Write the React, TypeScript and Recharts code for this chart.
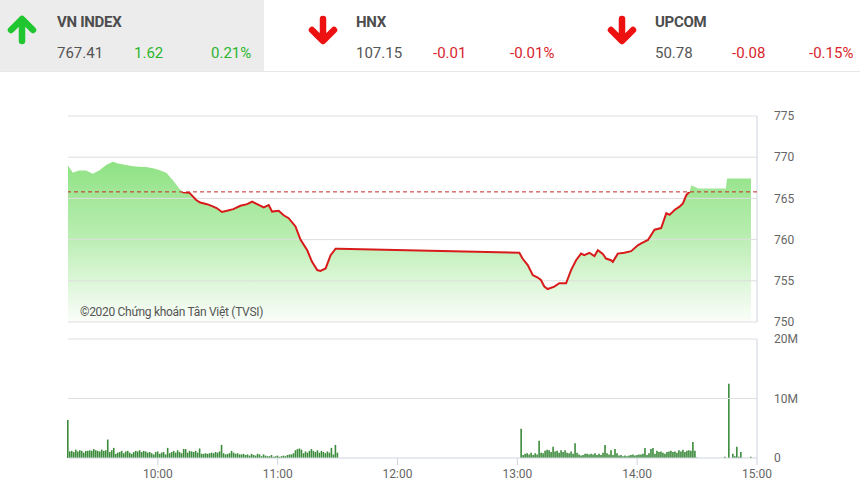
import React from 'react';
import { ComposedChart, Area, Line, Bar, XAxis, YAxis, ReferenceLine } from 'recharts';

// ---------- data ----------
const indexNames = ['VN INDEX', 'HNX', 'UPCOM'];
const indexValues = ['767.41', '107.15', '50.78'];
const indexChanges = ['1.62', '-0.01', '-0.08'];
const indexPercents = ['0.21%', '-0.01%', '-0.15%'];
const indexUp = [true, false, false];

const refPrice = 765.79;

const priceTimes = [
  555, 557.4, 560.5, 564, 567.4, 570.6, 574.1, 577.4, 580.6, 584.1, 587.5, 590.6, 594.1, 597.5,
  600.7, 604.2, 607.5, 610.7, 612.6, 615.7, 619.2, 621.2, 624.6, 627.8, 629.6, 632.1, 634.6,
  637.8, 641.3, 644.7, 647.2, 649.7, 653, 655.5, 657.2, 660.5, 663, 665.5, 668.9, 671.4, 674.8,
  677.2, 679.8, 681.4, 684, 686.5, 689, 690.5,
  781, 782.6, 785.2, 787.7, 790.2, 791.8, 793.5, 795.2, 798.5, 801, 804.4, 806.9, 809.4, 811.9,
  813.5, 816.1, 818.6, 820.3, 822.8, 824.4, 826.9, 827.8, 830.3, 833.6, 837, 840.3, 842, 845.4,
  848.7, 852, 854.6, 856.2, 858.7, 861.2, 862.9, 864.6, 866.2, 867.1, 868.8, 870.5, 884.4, 885,
  897,
];
const priceValues = [
  769.0, 768.1, 768.4, 768.4, 768.0, 768.4, 769.05, 769.45, 769.2, 769.05, 768.9, 768.85, 768.8, 768.65,
  768.45, 768.1, 767.2, 766.2, 765.75, 765.7, 764.8, 764.5, 764.3, 764.0, 763.8, 763.35, 763.5,
  763.7, 764.1, 764.3, 764.6, 764.3, 763.9, 764.2, 763.4, 763.5, 762.95, 762.6, 761.6, 760.0, 758.7,
  757.3, 756.3, 756.2, 756.5, 758.1, 758.9, 758.9,
  758.4, 757.7, 756.9, 755.7, 755.4, 755.1, 754.3, 754.0, 754.3, 754.7, 754.7, 756.3, 757.5, 758.3,
  758.1, 758.4, 758.0, 758.7, 758.25, 757.7, 757.5, 757.3, 758.3, 758.4, 758.6, 759.3, 759.55, 759.95,
  761.2, 761.4, 763.2, 763.0, 763.6, 764.0, 764.4, 765.4, 765.8, 766.6, 766.4, 766.2, 766.2, 767.4,
  767.4,
];

// volume in millions, one bar per minute
const volMorningStart = 555;
const volMorning = [
  6.4, 1.1, 1.2, 1.0, 1.4, 1.1, 1.3, 1.2, 0.9, 1.2, 1.2, 1.3, 1.2, 1.5, 1.3, 1.2, 1.1, 1.4, 1.2, 1.3,
  3.1, 1.0, 1.3, 1.7, 0.7, 0.9, 1.0, 1.2, 0.8, 1.1, 1.2, 0.9, 0.7, 1.0, 1.2, 1.1, 1.3, 1.0, 1.2, 1.1,
  0.9, 1.0, 0.8, 0.6, 1.0, 1.1, 0.7, 0.9, 1.0, 0.6, 1.7, 0.8, 1.0, 1.2, 0.9, 1.3, 1.0, 0.8, 1.5, 1.5,
  0.9, 1.2, 1.1, 1.0, 1.2, 0.9, 1.6, 0.7, 0.7, 0.8, 0.7, 0.8, 0.9, 0.8, 1.0, 0.9, 1.1, 2.2, 0.8, 0.6,
  0.7, 0.8, 1.2, 0.9, 0.7, 0.8, 0.6, 0.6, 0.7, 0.5, 0.6, 0.4, 0.7, 0.5, 0.4, 0.7, 0.6, 0.3, 0.6, 0.4,
  0.3, 0.3, 0.5, 0.2, 0.3, 0.4, 0.2, 0.3, 0.4, 0.3, 0.5, 0.6, 0.6, 0.8, 1.3, 1.5, 1.6, 1.4, 0.8, 1.1,
  0.9, 1.2, 1.5, 1.2, 1.0, 1.3, 0.9, 1.2, 1.0, 0.8, 1.1, 0.9, 1.7, 0.6, 2.2, 0.9,
];
const volAfternoonStart = 782;
const volAfternoon = [
  4.9, 0.5, 0.7, 0.8, 0.6, 0.9, 0.5, 0.8, 0.6, 2.9, 0.9, 0.8, 1.2, 1.4, 1.3, 1.0, 1.9, 1.1, 1.2, 0.9,
  1.3, 1.0, 1.3, 0.9, 0.8, 1.1, 0.7, 2.5, 0.9, 0.6, 0.4, 0.5, 0.7, 0.7, 0.6, 0.7, 0.6, 0.8, 0.5, 0.7,
  0.5, 0.9, 2.2, 0.8, 0.6, 1.3, 0.5, 1.5, 0.8, 0.4, 0.5, 0.3, 0.4, 0.3, 0.4, 0.5, 0.6, 0.4, 0.5, 0.6,
  0.6, 0.7, 1.7, 0.5, 0.8, 1.5, 1.7, 0.7, 1.2, 1.0, 1.1, 0.9, 0.7, 1.0, 1.1, 1.2, 1.0, 1.1, 0.9, 1.3,
  1.1, 1.4, 1.0, 1.2, 1.3, 1.2, 2.7, 1.2, 0.1,
];
const atcTimes = [884, 886, 888, 889, 890, 891, 892, 897];
const atcVolumes = [0.2, 12.5, 0.7, 0.3, 1.9, 0.2, 1.0, 0.2];

const timeTicks = [600, 660, 720, 780, 840, 900];
const priceTicks = [750, 755, 760, 765, 770, 775];
const volumeTicks = [0, 10, 20];

// ---------- derived tables ----------
const priceData = priceTimes.map((t, i) => ({ t, v: priceValues[i] }));
const volumeData = [
  ...volMorning.map((v, i) => ({ t: volMorningStart + i, vol: v })),
  ...volAfternoon.map((v, i) => ({ t: volAfternoonStart + i, vol: v })),
  ...atcTimes.map((t, i) => ({ t, vol: atcVolumes[i] })),
];

const maxV = Math.max(...priceValues);
const minV = Math.min(...priceValues);
const refOffset = (maxV - refPrice) / (maxV - minV);

const fmtTime = (m: number) => {
  const h = Math.floor(m / 60);
  const mm = m % 60;
  return `${h < 10 ? '0' : ''}${h}:${mm < 10 ? '0' : ''}${mm}`;
};
const fmtVol = (v: number) => (v === 0 ? '0' : `${v}M`);

const FONT = 'Roboto, "Noto Sans", sans-serif';
const GREEN = '#2cb52c';
const RED = '#d8252c';
const TEXT = '#555555';
const GRID = '#dedede';
const BORDER = '#cdd4df';

const Arrow = ({ up, left }: { up: boolean; left: number }) => (
  <svg width={32} height={30} style={{ position: 'absolute', left, top: 15 }}>
    {up ? (
      <path d="M5 15 L16 4 L27 15 M16 5 L16 26" stroke="#1fc62f" strokeWidth={6.5} fill="none" strokeLinecap="round" strokeLinejoin="round" />
    ) : (
      <path d="M5 15 L16 26 L27 15 M16 25 L16 4" stroke="#ee1111" strokeWidth={6.5} fill="none" strokeLinecap="round" strokeLinejoin="round" />
    )}
  </svg>
);

const Header = () => {
  const lefts = [0, 299, 598];
  return (
    <>
      <div style={{ position: 'absolute', left: 0, top: 0, width: 264, height: 71, background: '#ececec' }} />
      <div style={{ position: 'absolute', left: 0, top: 71, width: 860, height: 1, background: '#e8e8e8' }} />
      {indexNames.map((name, i) => {
        const x = lefts[i];
        const col = indexUp[i] ? GREEN : RED;
        return (
          <React.Fragment key={name}>
            <Arrow up={indexUp[i]} left={x + 6 + (i === 0 ? 0 : 2)} />
            <div style={{ position: 'absolute', left: x + 57, top: 12, fontSize: 15, fontWeight: 700, color: '#4d4d4d', lineHeight: '20px', letterSpacing: -0.3 }}>{name}</div>
            <div style={{ position: 'absolute', left: x + 57, top: 43, fontSize: 15, color: TEXT, lineHeight: '20px' }}>{indexValues[i]}</div>
            <div style={{ position: 'absolute', left: x + 134, top: 43, fontSize: 15, color: col, lineHeight: '20px' }}>{indexChanges[i]}</div>
            <div style={{ position: 'absolute', left: x + 211, top: 43, fontSize: 15, color: col, lineHeight: '20px' }}>{indexPercents[i]}</div>
          </React.Fragment>
        );
      })}
    </>
  );
};

const tickStyle = { fill: '#666', fontSize: 12, fontFamily: FONT };

export default function App() {
  return (
    <div style={{ position: 'fixed', left: 0, top: 0, width: 860, height: 493, background: '#fff', fontFamily: FONT, overflow: 'hidden' }}>
      <Header />
      <div style={{ position: 'absolute', left: 0, top: 0 }}>
        <ComposedChart width={860} height={330} data={priceData} margin={{ top: 116, right: 43, bottom: 8, left: 68 }}>
          <defs>
            <linearGradient id="areaFill" x1="0" y1="0" x2="0" y2="1">
              <stop offset="0%" stopColor="#8fe284" />
              <stop offset="45%" stopColor="#b8edb0" />
              <stop offset="100%" stopColor="#fbfefa" />
            </linearGradient>
            <linearGradient id="redStroke" x1="0" y1="0" x2="0" y2="1">
              <stop offset="0" stopColor="#d81a1a" stopOpacity={0} />
              <stop offset={refOffset} stopColor="#d81a1a" stopOpacity={0} />
              <stop offset={refOffset} stopColor="#d81a1a" stopOpacity={1} />
              <stop offset="1" stopColor="#d81a1a" stopOpacity={1} />
            </linearGradient>
          </defs>
          <XAxis dataKey="t" type="number" domain={[555, 900]} ticks={timeTicks} hide />
          <YAxis
            orientation="right"
            type="number"
            domain={[750, 775]}
            ticks={priceTicks}
            width={60}
            axisLine={false}
            tickLine={false}
            tickMargin={11}
            tick={tickStyle}
          />
          <Area dataKey="v" type="linear" stroke="none" fill="url(#areaFill)" fillOpacity={1} isAnimationActive={false} baseValue={750} />
          {priceTicks.map((p) => (
            <ReferenceLine key={p} y={p} stroke={GRID} strokeWidth={1} />
          ))}
          <ReferenceLine x={900} stroke={BORDER} strokeWidth={1} />
          <ReferenceLine y={refPrice} stroke="#c62828" strokeDasharray="4 3" strokeWidth={1} />
          <Line dataKey="v" type="linear" stroke="url(#redStroke)" strokeWidth={2} dot={false} activeDot={false} isAnimationActive={false} />
        </ComposedChart>
      </div>
      <div style={{ position: 'absolute', left: 80, top: 303, fontSize: 12, letterSpacing: -0.3, color: TEXT, lineHeight: '18px', whiteSpace: 'nowrap' }}>
        ©2020 Chứng khoán Tân Việt (TVSI)
      </div>
      <div style={{ position: 'absolute', left: 0, top: 330 }}>
        <ComposedChart width={860} height={163} data={volumeData} margin={{ top: 9, right: 43, bottom: 5, left: 68 }}>
          <XAxis
            dataKey="t"
            type="number"
            domain={[555, 900]}
            ticks={timeTicks}
            tickFormatter={fmtTime}
            height={30}
            axisLine={{ stroke: BORDER }}
            tickLine={{ stroke: BORDER }}
            tickSize={7}
            tickMargin={4}
            tick={tickStyle}
          />
          <YAxis
            orientation="right"
            type="number"
            domain={[0, 20]}
            ticks={volumeTicks}
            tickFormatter={fmtVol}
            width={60}
            axisLine={false}
            tickLine={false}
            tickMargin={11}
            tick={tickStyle}
          />
          <ReferenceLine y={10} stroke={GRID} />
          <ReferenceLine y={20} stroke={GRID} />
          <ReferenceLine x={900} stroke={BORDER} />
          <Bar dataKey="vol" fill="#3b8b3b" barSize={1.6} isAnimationActive={false} />
        </ComposedChart>
      </div>
    </div>
  );
}
